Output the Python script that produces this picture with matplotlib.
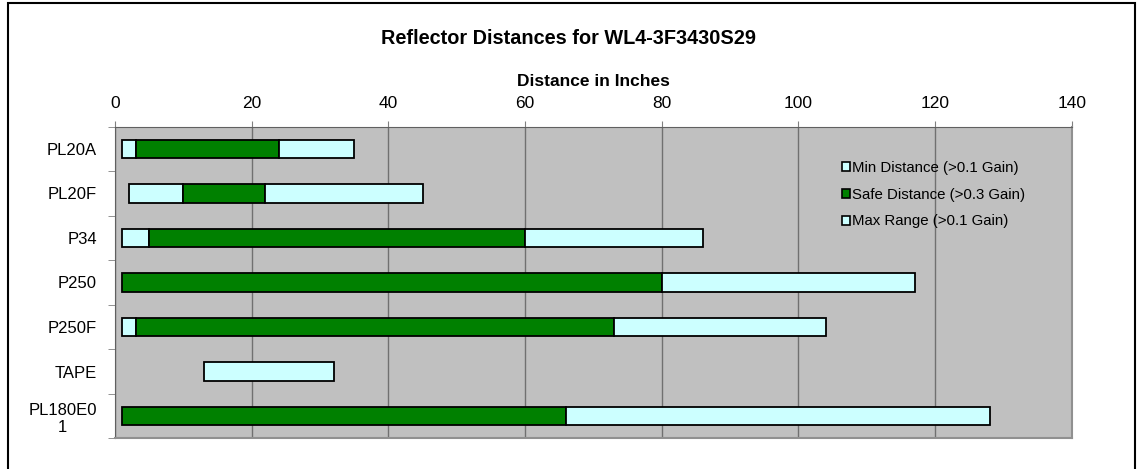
import numpy as np
import matplotlib
matplotlib.use("Agg")
import matplotlib.pyplot as plt
from matplotlib.patches import Patch, Rectangle

plt.rcParams["font.family"] = ["Liberation Sans", "DejaVu Sans"]

labels = ["PL20A", "PL20F", "P34", "P250", "P250F", "TAPE", "PL180E0\n1"]
start = np.array([1, 2, 1, 1, 1, 13, 1])
min_end = np.array([3, 10, 5, 1, 3, 13, 1])
safe_end = np.array([24, 22, 60, 80, 73, 13, 66])
max_end = np.array([35, 45, 86, 117, 104, 32, 128])

CYAN = "#CCFFFF"
GREEN = "#008000"

fig = plt.figure(figsize=(11.37, 4.69), dpi=100, facecolor="white")
ax = fig.add_axes([115 / 1137, 1 - 438.3 / 469, (1071.7 - 115) / 1137, (438.3 - 126.7) / 469])
ax.set_facecolor("#C0C0C0")

y = np.arange(len(labels))
segs = [(start, min_end, CYAN), (min_end, safe_end, GREEN), (safe_end, max_end, CYAN)]
for lo, hi, col in segs:
    w = hi - lo
    m = w > 0
    ax.barh(y[m], w[m], left=lo[m], height=0.42, color=col, edgecolor="black", lw=1.3, zorder=3)

ax.set_xlim(0, 140)
ax.set_ylim(len(labels) - 0.5, -0.5)
ax.set_xticks(np.arange(0, 141, 20))
ax.xaxis.tick_top()
ax.xaxis.set_label_position("top")
ax.set_xlabel("Distance in Inches", fontsize=12.5, fontweight="bold", labelpad=7)
ax.tick_params(axis="x", labelsize=12.5, length=4, color="#808080", pad=7.5)
ax.grid(axis="x", color="#707070", lw=1, zorder=1)

ax.set_yticks(y)
ax.set_yticklabels(labels, fontsize=12)
for t in ax.get_yticklabels():
    t.set_multialignment("center")
ax.tick_params(axis="y", length=0, pad=13)
ax.set_yticks(np.arange(-0.5, len(labels)), minor=True)
ax.tick_params(axis="y", which="minor", length=5, color="#808080")

for s in ["top", "left"]:
    ax.spines[s].set_color("#606060")
for s in ["bottom", "right"]:
    ax.spines[s].set_color("#909090")
    ax.spines[s].set_linewidth(1.5)

handles = [Patch(facecolor=CYAN, edgecolor="black", lw=1.2),
           Patch(facecolor=GREEN, edgecolor="black", lw=1.2),
           Patch(facecolor=CYAN, edgecolor="black", lw=1.2)]
names = ["Min Distance (>0.1 Gain)", "Safe Distance (>0.3 Gain)", "Max Range (>0.1 Gain)"]
fig.legend(handles, names, loc="upper left", bbox_to_anchor=(842 / 1137, 1 - 161 / 469),
           frameon=False, fontsize=10.8, handlelength=0.55, handleheight=0.55,
           handletextpad=0.15, labelspacing=0.85, borderpad=0, borderaxespad=0)

fig.text(0.5, 1 - 38 / 469, "Reflector Distances for WL4-3F3430S29",
         ha="center", va="center", fontsize=14.3, fontweight="bold")

fig.patches.append(Rectangle((8 / 1137, -0.05), (1135 - 8) / 1137, 1.05 - 3.5 / 469,
                             transform=fig.transFigure, fill=False, edgecolor="black", lw=1.5))

fig.savefig("out.png", dpi=100)
